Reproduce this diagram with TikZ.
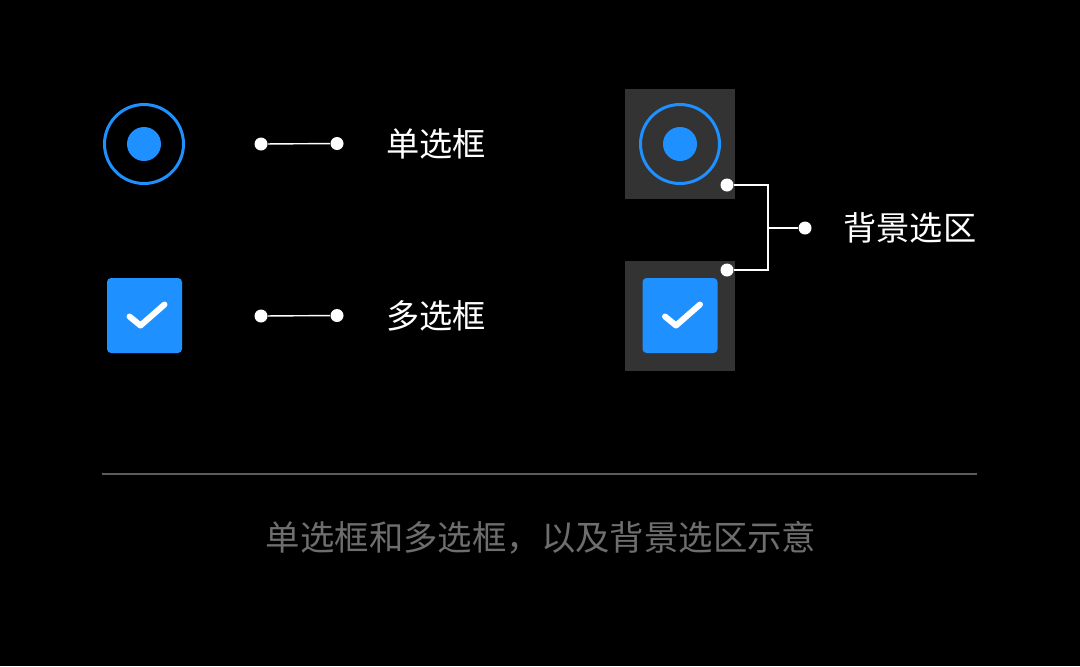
\documentclass[tikz,border=0pt]{standalone}
\usepackage{fontspec}
\setmainfont{Noto Sans CJK SC}
\usepackage{xcolor}
\usepackage{tikz}
\usetikzlibrary{positioning,calc}

\definecolor{selblue}{HTML}{1E90FF}
\definecolor{boxgray}{HTML}{333333}
\definecolor{rulegray}{HTML}{5C5C5C}
\definecolor{notegray}{HTML}{6E6E6E}

\begin{document}
\begin{tikzpicture}[
    x=0.5pt, y=-0.5pt,
    radio/.style={circle, draw=selblue, line width=1.5pt, minimum size=39.5pt, inner sep=0pt},
    radiodot/.style={circle, fill=selblue, minimum size=17pt, inner sep=0pt},
    checkbox/.style={rectangle, rounded corners=2pt, fill=selblue, minimum size=37.5pt, inner sep=0pt},
    backbox/.style={rectangle, fill=boxgray, minimum size=55pt, inner sep=0pt},
    pin/.style={circle, fill=white, minimum size=6.5pt, inner sep=0pt},
    link/.style={draw=white, line width=0.7pt},
    tick/.style={draw=white, line width=3pt, line cap=round, line join=round},
    caption/.style={text=white, anchor=west, inner sep=0pt, font=\fontsize{16.6pt}{19pt}\selectfont}
]

% canvas
\fill[black] (0,0) rectangle (1080,666);
\useasboundingbox (0,0) rectangle (1080,666);

% left column: plain controls
\node[radio] (rd1) at (144,144) {};
\node[radiodot] at (rd1.center) {};
\node[checkbox] (cb1) at (144.5,315.5) {};
\draw[tick] ([shift={(-15,1)}]cb1.center) -- ([shift={(-4,10)}]cb1.center) -- ([shift={(20,-11)}]cb1.center);

% right column: controls on background
\node[backbox] (bg1) at (680,144) {};
\node[radio] (rd2) at (bg1.center) {};
\node[radiodot] at (rd2.center) {};
\node[backbox] (bg2) at (680,315.5) {};
\node[checkbox] (cb2) at (bg2.center) {};
\draw[tick] ([shift={(-15,1)}]cb2.center) -- ([shift={(-4,10)}]cb2.center) -- ([shift={(20,-11)}]cb2.center);

% pins and labels
\node[pin] (p1) at (261,144) {};
\node[pin] (p2) at (337,143.5) {};
\node[caption] (radiolbl) at (386,144) {单选框};
\node[pin] (p3) at (261,316) {};
\node[pin] (p4) at (337,315.5) {};
\node[caption] (checklbl) at (386,316) {多选框};

\node[pin] (p5) at (727,185) {};
\node[pin] (p6) at (727,270) {};
\coordinate (jn) at (768,228);
\node[pin] (p7) at (805,228) {};
\node[caption] (bglbl) at (843,228) {背景选区};

\draw[link] (p1) -- (p2);
\draw[link] (p3) -- (p4);
\draw[link] (p5) -| (jn) |- (p6);
\draw[link] (jn) -- (p7);

% footer
\draw[rulegray, line width=0.75pt] (102,474) -- (977,474);
\node[text=notegray, font=\fontsize{17.2pt}{20pt}\selectfont] (note) at (541,538) {单选框和多选框，以及背景选区示意};

\end{tikzpicture}
\end{document}
